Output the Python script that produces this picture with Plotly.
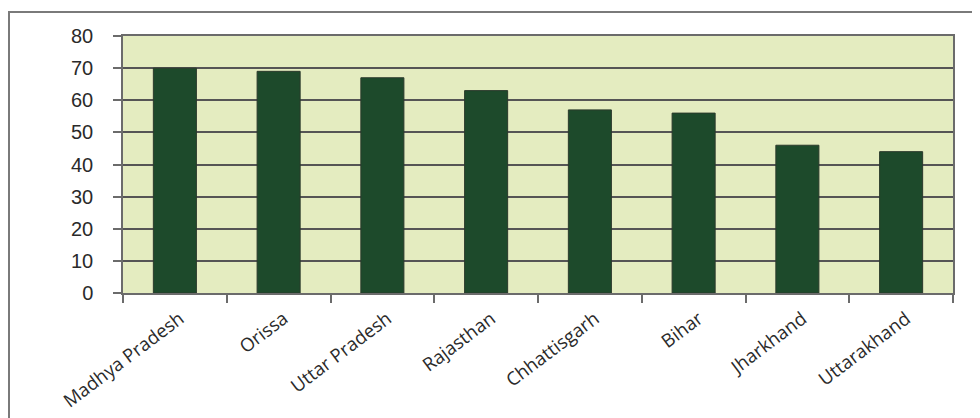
import plotly.graph_objects as go

states = ["Madhya Pradesh", "Orissa", "Uttar Pradesh", "Rajasthan",
          "Chhattisgarh", "Bihar", "Jharkhand", "Uttarakhand"]
values = [70, 69, 67, 63, 57, 56, 46, 44]
y_ticks = [0, 10, 20, 30, 40, 50, 60, 70, 80]

OFF = 8  # page body margin
W, H = 980 - OFF, 418 - OFF
L, T = 123 - OFF, 36 - OFF
R = W - (953 - OFF)
B = H - (293 - OFF)
pw, ph = W - L - R, H - T - B

def px_x(x):
    return (x - OFF - L) / pw

def px_y(y):
    return (H - B - (y - OFF)) / ph

fig = go.Figure(go.Bar(
    x=states, y=values,
    marker=dict(color="#1d4a2b", line=dict(color="#2b3a2c", width=1)),
    width=0.415,
))

fig.update_layout(
    width=W, height=H,
    margin=dict(l=L, r=R, t=T, b=B, autoexpand=False),
    paper_bgcolor="white",
    plot_bgcolor="#e4ecc0",
    showlegend=False,
    shapes=[dict(type="rect", xref="paper", yref="paper",
                 x0=px_x(9), x1=px_x(1000), y0=px_y(440), y1=px_y(12),
                 line=dict(color="#7a7a7a", width=2), fillcolor="rgba(0,0,0,0)",
                 layer="below")],
)

fig.update_xaxes(
    type="category", automargin=False,
    showline=True, linecolor="#6b6b6b", linewidth=1.5, mirror=True,
    ticks="outside", tickson="boundaries", ticklen=8, tickcolor="#6b6b6b", tickwidth=1.5,
    tickangle=-37,
    tickfont=dict(family="Open Sans", size=18.5, color="#2a2a2a"),
    ticklabelstandoff=6, ticklabelshift=5,
    showgrid=False,
)
fig.update_yaxes(
    range=[0, 80], tickvals=y_ticks, automargin=False,
    showline=True, linecolor="#6b6b6b", linewidth=1.5, mirror=True,
    ticks="outside", ticklen=8, tickcolor="#6b6b6b", tickwidth=1.5,
    showgrid=True, gridcolor="#555555", gridwidth=1.5,
    zeroline=False,
    tickfont=dict(family="Liberation Sans, Arial", size=20, color="#2a2a2a"),
    ticklabelstandoff=16,
)

fig.write_html("out.html")
